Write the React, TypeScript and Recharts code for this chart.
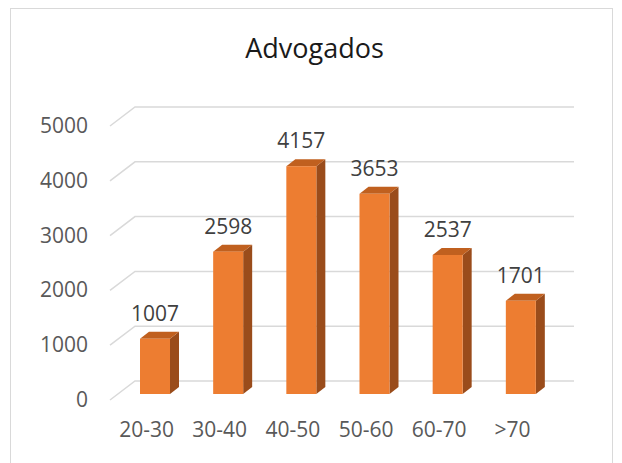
import React from 'react';
import { BarChart, Bar, XAxis, YAxis, CartesianGrid, LabelList } from 'recharts';

const categories = ['20-30', '30-40', '40-50', '50-60', '60-70', '>70'];
const advogados = [1007, 2598, 4157, 3653, 2537, 1701];
const yTicks = [0, 1000, 2000, 3000, 4000, 5000];

const data = categories.map((faixa, i) => ({ faixa, advogados: advogados[i] }));

// oblique 3D offsets (relative to the bar plane)
const BACK = { dx: 17, dy: -13 };
const FRONT = { dx: -8, dy: 6 };
const DEPTH = { dx: 9, dy: -7 };

const FONT = '"Open Sans", sans-serif';

const GridLine = (props: any) => {
  const { x1, x2, y1 } = props;
  const pts = `${x1 + FRONT.dx},${y1 + FRONT.dy} ${x1 + BACK.dx},${y1 + BACK.dy} ${x2 + BACK.dx},${y1 + BACK.dy}`;
  return <polyline key={props.key} points={pts} fill="none" stroke="#d9d9d9" strokeWidth={1.5} />;
};

const Bar3D = (props: any) => {
  const { x, y, width, height } = props;
  const { dx, dy } = DEPTH;
  const top = `${x},${y} ${x + dx},${y + dy} ${x + width + dx},${y + dy} ${x + width},${y}`;
  const side = `${x + width},${y} ${x + width + dx},${y + dy} ${x + width + dx},${y + height + dy} ${x + width},${y + height}`;
  return (
    <g>
      <polygon points={side} fill="#9a4c1b" />
      <polygon points={top} fill="#c0601f" />
      <rect x={x} y={y} width={width} height={height} fill="#ed7d31" />
    </g>
  );
};

const ValueLabel = (props: any) => {
  const { x, y, width, value } = props;
  return (
    <text x={x + width / 2} y={y - 18} textAnchor="middle" fill="#404040" fontSize={21} fontFamily={FONT}>
      {value}
    </text>
  );
};

const YTick = (props: any) => (
  <text x={88} y={props.y + FRONT.dy + 7} textAnchor="end" fill="#595959" fontSize={21} fontFamily={FONT}>
    {props.payload.value}
  </text>
);

const XTick = (props: any) => (
  <text x={props.x + FRONT.dx} y={437} textAnchor="middle" fill="#595959" fontSize={21} fontFamily={FONT}>
    {props.payload.value}
  </text>
);

export default function App() {
  return (
    <div style={{ position: 'absolute', left: 0, top: 0, width: 622, height: 463, background: '#fff', overflow: 'hidden' }}>
      <div
        style={{
          position: 'absolute',
          left: 10,
          top: 8,
          width: 603,
          height: 470,
          border: '1px solid #d9d9d9',
          boxSizing: 'border-box',
        }}
      />
      <div
        style={{
          position: 'absolute',
          left: 0,
          top: 34,
          width: 629,
          textAlign: 'center',
          fontFamily: FONT,
          fontSize: 27,
          lineHeight: 1,
          color: '#1a1a1a',
        }}
      >
        Advogados
      </div>
      <div style={{ position: 'absolute', left: 0, top: 0 }}>
        <BarChart width={622} height={463} data={data} margin={{ top: 120, right: 65, bottom: 0, left: 0 }}>
          <CartesianGrid vertical={false} horizontal={GridLine} />
          <XAxis dataKey="faixa" axisLine={false} tickLine={false} height={69} tick={XTick} interval={0} />
          <YAxis
            width={118}
            domain={[0, 5000]}
            ticks={yTicks}
            axisLine={false}
            tickLine={false}
            tick={YTick}
          />
          <Bar dataKey="advogados" barSize={30} shape={Bar3D} isAnimationActive={false}>
            <LabelList dataKey="advogados" content={ValueLabel} />
          </Bar>
        </BarChart>
      </div>
    </div>
  );
}
